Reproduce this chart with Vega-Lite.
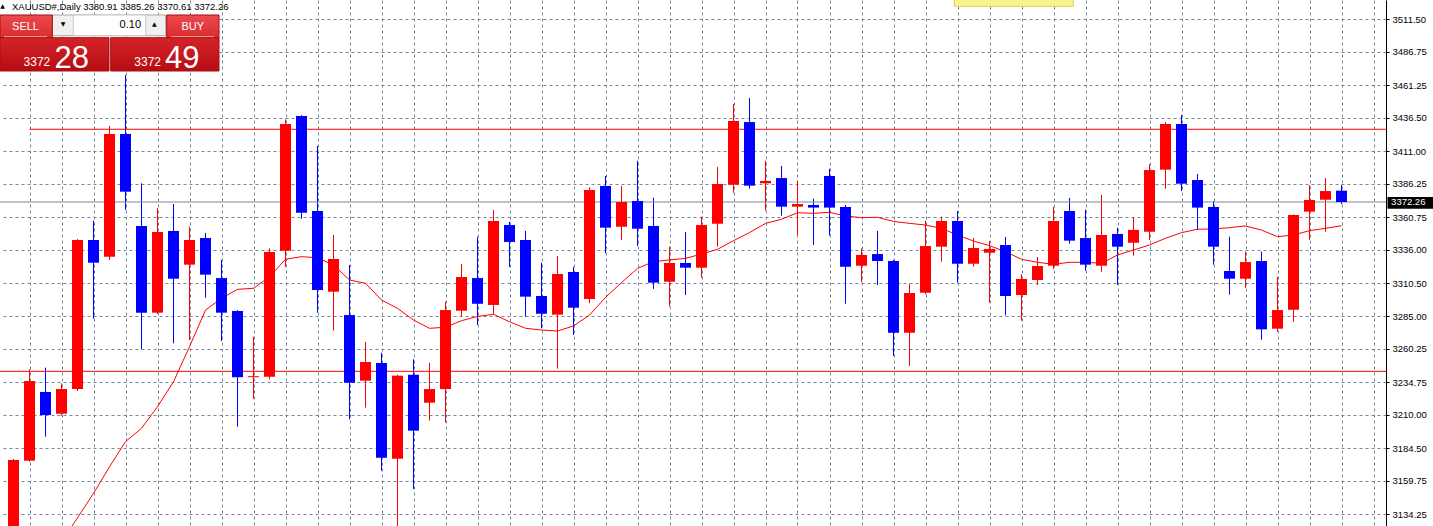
{
  "$schema": "https://vega.github.io/schema/vega-lite/v6.json",
  "width": 1386,
  "height": 526,
  "autosize": "none",
  "padding": {"left": 0, "top": 0, "right": 47, "bottom": 0},
  "background": "#FFFFFF",
  "config": {"view": {"stroke": null}, "scale": {"continuousPadding": 0}},
  "datasets": {
    "candles": [
      {"i":0,"open":3105,"high":3176.4,"low":3100,"close":3175.6},
      {"i":1,"open":3175.1,"high":3244.8,"low":3174.5,"close":3235.8},
      {"i":2,"open":3227.5,"high":3246.0,"low":3193.4,"close":3209.9},
      {"i":3,"open":3210.9,"high":3234.1,"low":3209.5,"close":3229.7},
      {"i":4,"open":3229.7,"high":3344.0,"low":3228.3,"close":3343.3},
      {"i":5,"open":3343.3,"high":3358.0,"low":3283.3,"close":3326.0},
      {"i":6,"open":3330.6,"high":3430.2,"low":3328.1,"close":3424.1},
      {"i":7,"open":3424.1,"high":3469.0,"low":3366.2,"close":3380.1},
      {"i":8,"open":3354.0,"high":3386.5,"low":3260.0,"close":3287.9},
      {"i":9,"open":3287.9,"high":3367.5,"low":3287.0,"close":3349.4},
      {"i":10,"open":3350.2,"high":3370.7,"low":3264.6,"close":3313.8},
      {"i":11,"open":3324.5,"high":3353.4,"low":3267.1,"close":3343.3},
      {"i":12,"open":3344.8,"high":3348.6,"low":3299.3,"close":3316.9},
      {"i":13,"open":3314.3,"high":3328.1,"low":3266.3,"close":3287.9},
      {"i":14,"open":3289.2,"high":3289.9,"low":3201.0,"close":3238.7},
      {"i":15,"open":3238.7,"high":3269.6,"low":3222.3,"close":3239.5},
      {"i":16,"open":3239.1,"high":3337.0,"low":3237.1,"close":3334.2},
      {"i":17,"open":3335.1,"high":3435.3,"low":3322.9,"close":3431.7},
      {"i":18,"open":3437.8,"high":3438.5,"low":3359.5,"close":3364.1},
      {"i":19,"open":3365.4,"high":3414.9,"low":3287.9,"close":3305.2},
      {"i":20,"open":3303.9,"high":3347.1,"low":3274.2,"close":3328.8},
      {"i":21,"open":3286.1,"high":3324.2,"low":3206.6,"close":3234.5},
      {"i":22,"open":3236.1,"high":3265.6,"low":3215.5,"close":3250.3},
      {"i":23,"open":3249.6,"high":3257.4,"low":3167.5,"close":3177.4},
      {"i":24,"open":3176.6,"high":3240.6,"low":3118.0,"close":3239.9},
      {"i":25,"open":3240.6,"high":3252.4,"low":3153.5,"close":3198.0},
      {"i":26,"open":3219.3,"high":3249.6,"low":3205.6,"close":3229.7},
      {"i":27,"open":3229.7,"high":3296.3,"low":3204.1,"close":3289.9},
      {"i":28,"open":3289.4,"high":3325.0,"low":3284.8,"close":3315.1},
      {"i":29,"open":3314.3,"high":3345.8,"low":3278.5,"close":3294.7},
      {"i":30,"open":3293.8,"high":3366.2,"low":3286.7,"close":3357.8},
      {"i":31,"open":3354.7,"high":3357.2,"low":3322.9,"close":3341.8},
      {"i":32,"open":3343.3,"high":3350.2,"low":3284.8,"close":3300.1},
      {"i":33,"open":3300.6,"high":3326.0,"low":3276.0,"close":3287.1},
      {"i":34,"open":3286.4,"high":3331.1,"low":3245.2,"close":3317.4},
      {"i":35,"open":3318.9,"high":3322.9,"low":3270.9,"close":3291.7},
      {"i":36,"open":3298.3,"high":3383.5,"low":3295.1,"close":3381.4},
      {"i":37,"open":3384.5,"high":3392.1,"low":3333.2,"close":3352.7},
      {"i":38,"open":3353.4,"high":3384.5,"low":3343.3,"close":3372.3},
      {"i":39,"open":3373.0,"high":3403.7,"low":3338.7,"close":3351.9},
      {"i":40,"open":3354.0,"high":3375.5,"low":3306.0,"close":3310.8},
      {"i":41,"open":3311.5,"high":3338.2,"low":3292.5,"close":3325.8},
      {"i":42,"open":3325.8,"high":3349.4,"low":3301.4,"close":3322.2},
      {"i":43,"open":3322.2,"high":3361.1,"low":3314.6,"close":3354.7},
      {"i":44,"open":3355.7,"high":3398.9,"low":3338.2,"close":3386.0},
      {"i":45,"open":3385.4,"high":3446.9,"low":3379.3,"close":3434.0},
      {"i":46,"open":3433.2,"high":3451.5,"low":3382.4,"close":3384.7},
      {"i":47,"open":3386.5,"high":3403.7,"low":3365.6,"close":3388.3},
      {"i":48,"open":3390.5,"high":3399.7,"low":3361.8,"close":3368.7},
      {"i":49,"open":3368.7,"high":3388.3,"low":3347.1,"close":3370.7},
      {"i":50,"open":3370.0,"high":3374.8,"low":3339.5,"close":3368.0},
      {"i":51,"open":3392.1,"high":3397.6,"low":3346.6,"close":3368.0},
      {"i":52,"open":3368.5,"high":3370.0,"low":3294.7,"close":3322.9},
      {"i":53,"open":3323.7,"high":3337.0,"low":3311.1,"close":3331.9},
      {"i":54,"open":3332.6,"high":3350.2,"low":3309.0,"close":3327.3},
      {"i":55,"open":3327.3,"high":3328.1,"low":3254.9,"close":3272.6},
      {"i":56,"open":3272.6,"high":3309.8,"low":3247.3,"close":3302.9},
      {"i":57,"open":3303.1,"high":3358.0,"low":3301.9,"close":3338.7},
      {"i":58,"open":3338.2,"high":3361.1,"low":3326.8,"close":3357.8},
      {"i":59,"open":3357.8,"high":3365.4,"low":3310.8,"close":3325.2},
      {"i":60,"open":3325.2,"high":3344.8,"low":3322.9,"close":3337.2},
      {"i":61,"open":3333.6,"high":3342.5,"low":3295.5,"close":3336.5},
      {"i":62,"open":3339.5,"high":3345.6,"low":3285.9,"close":3300.6},
      {"i":63,"open":3301.4,"high":3317.2,"low":3281.8,"close":3313.6},
      {"i":64,"open":3312.8,"high":3330.4,"low":3309.0,"close":3323.5},
      {"i":65,"open":3323.7,"high":3368.5,"low":3321.2,"close":3357.8},
      {"i":66,"open":3365.4,"high":3375.3,"low":3340.5,"close":3342.8},
      {"i":67,"open":3344.8,"high":3366.4,"low":3319.9,"close":3324.5},
      {"i":68,"open":3323.7,"high":3377.6,"low":3319.1,"close":3347.1},
      {"i":69,"open":3347.9,"high":3352.7,"low":3309.2,"close":3338.2},
      {"i":70,"open":3341.2,"high":3360.8,"low":3331.3,"close":3351.0},
      {"i":71,"open":3349.6,"high":3401.2,"low":3343.3,"close":3396.6},
      {"i":72,"open":3396.9,"high":3433.2,"low":3382.4,"close":3431.7},
      {"i":73,"open":3431.7,"high":3438.6,"low":3380.6,"close":3386.2},
      {"i":74,"open":3389.0,"high":3393.6,"low":3351.1,"close":3368.0},
      {"i":75,"open":3368.5,"high":3373.0,"low":3324.5,"close":3338.2},
      {"i":76,"open":3319.7,"high":3345.8,"low":3301.6,"close":3313.8},
      {"i":77,"open":3313.8,"high":3334.4,"low":3306.9,"close":3326.5},
      {"i":78,"open":3327.3,"high":3334.4,"low":3267.3,"close":3275.2},
      {"i":79,"open":3275.7,"high":3315.1,"low":3273.4,"close":3289.9},
      {"i":80,"open":3290.2,"high":3362.8,"low":3281.0,"close":3362.3},
      {"i":81,"open":3364.9,"high":3385.2,"low":3343.5,"close":3373.8},
      {"i":82,"open":3374.0,"high":3390.5,"low":3349.6,"close":3380.6},
      {"i":83,"open":3380.91,"high":3385.26,"low":3370.61,"close":3372.26}
    ],
    "ma": [
      {"i":3,"ma":3113.1},{"i":4,"ma":3131.6},{"i":5,"ma":3150.2},{"i":6,"ma":3170.5},{"i":7,"ma":3189.6},
      {"i":8,"ma":3199.8},{"i":9,"ma":3216.3},{"i":10,"ma":3235.3},{"i":11,"ma":3262.0},{"i":12,"ma":3289.9},
      {"i":13,"ma":3298.9},{"i":14,"ma":3305.7},{"i":15,"ma":3306.5},{"i":16,"ma":3315.3},{"i":17,"ma":3328.6},
      {"i":18,"ma":3330.6},{"i":19,"ma":3329.8},{"i":20,"ma":3324.2},{"i":21,"ma":3312.8},{"i":22,"ma":3310.3},
      {"i":23,"ma":3297.6},{"i":24,"ma":3291.2},{"i":25,"ma":3282.3},{"i":26,"ma":3276.0},{"i":27,"ma":3276.8},
      {"i":28,"ma":3281.8},{"i":29,"ma":3285.0},{"i":30,"ma":3286.7},{"i":31,"ma":3281.0},{"i":32,"ma":3276.0},
      {"i":33,"ma":3274.7},{"i":34,"ma":3273.9},{"i":35,"ma":3277.8},{"i":36,"ma":3286.1},{"i":37,"ma":3299.6},
      {"i":38,"ma":3310.8},{"i":39,"ma":3321.7},{"i":40,"ma":3326.8},{"i":41,"ma":3328.1},{"i":42,"ma":3329.3},
      {"i":43,"ma":3332.6},{"i":44,"ma":3336.2},{"i":45,"ma":3342.8},{"i":46,"ma":3348.9},{"i":47,"ma":3356.0},
      {"i":48,"ma":3359.1},{"i":49,"ma":3364.1},{"i":50,"ma":3363.6},{"i":51,"ma":3364.4},{"i":52,"ma":3361.6},
      {"i":53,"ma":3360.3},{"i":54,"ma":3360.6},{"i":55,"ma":3357.5},{"i":56,"ma":3356.0},{"i":57,"ma":3354.7},
      {"i":58,"ma":3352.2},{"i":59,"ma":3347.1},{"i":60,"ma":3342.5},{"i":61,"ma":3339.0},{"i":62,"ma":3334.4},
      {"i":63,"ma":3328.6},{"i":64,"ma":3326.3},{"i":65,"ma":3324.8},{"i":66,"ma":3326.3},{"i":67,"ma":3326.3},
      {"i":68,"ma":3325.5},{"i":69,"ma":3331.9},{"i":70,"ma":3335.7},{"i":71,"ma":3339.5},{"i":72,"ma":3344.6},
      {"i":73,"ma":3348.9},{"i":74,"ma":3351.5},{"i":75,"ma":3351.7},{"i":76,"ma":3352.7},{"i":77,"ma":3354.0},
      {"i":78,"ma":3350.9},{"i":79,"ma":3345.8},{"i":80,"ma":3347.1},{"i":81,"ma":3350.4},{"i":82,"ma":3352.2},
      {"i":83,"ma":3354.2}
    ]
  },
  "layer": [
    {
      "data": {"name": "candles"},
      "mark": {"type": "rule", "clip": true, "strokeWidth": 1},
      "encoding": {
        "x": {"field": "i", "type": "quantitative", "title": null,
              "scale": {"domain": [-0.84375, 85.78125], "nice": false, "zero": false, "padding": 0},
              "axis": {"orient": "bottom", "values": [1,3,5,7,9,11,13,15,17,19,21,23,25,27,29,31,33,35,37,39,41,43,45,47,49,51,53,55,57,59,61,63,65,67,69,71,73,75,77,79,81,83,85],
                       "tickCount": 200,
                       "grid": true, "gridDash": [3,3], "gridColor": "#778899", "gridOpacity": 1, "gridWidth": 1,
                       "labels": false, "ticks": false, "domain": false, "title": null}},
        "y": {"field": "low", "type": "quantitative", "title": null,
              "scale": {"domain": [3125.33, 3526.21], "nice": false, "zero": false, "padding": 0},
              "axis": {"orient": "right", "values": [3511.5,3486.75,3461.25,3436.5,3411.0,3386.25,3360.75,3336.0,3310.5,3285.0,3260.25,3234.75,3210.0,3184.5,3159.75,3134.25],
                       "tickCount": 100,
                       "format": ".2f", "grid": true, "gridDash": [3,3], "gridColor": "#778899", "gridOpacity": 1, "gridWidth": 1,
                       "domain": true, "domainColor": "#000000", "domainWidth": 1,
                       "ticks": true, "tickColor": "#000000", "tickSize": 3, "tickWidth": 1,
                       "labelFont": "Liberation Sans", "labelFontSize": 9.5, "labelColor": "#000000", "labelPadding": 3,
                       "labelOverlap": false, "labelFlush": false, "title": null}},
        "y2": {"field": "high"},
        "color": {"condition": {"test": "datum.close >= datum.open", "value": "#FF0000"}, "value": "#0000FF"}
      }
    },
    {
      "data": {"values": [{}]},
      "mark": {"type": "rule", "color": "#778899", "strokeWidth": 1},
      "encoding": {
        "x": {"datum": -0.84375, "type": "quantitative"},
        "x2": {"datum": 85.78125},
        "y": {"datum": 3372.26, "type": "quantitative"}
      }
    },
    {
      "data": {"values": [{}]},
      "mark": {"type": "rule", "color": "#FF0000", "strokeWidth": 1},
      "encoding": {
        "x": {"datum": 1, "type": "quantitative"},
        "x2": {"datum": 85.78125},
        "y": {"datum": 3427.7, "type": "quantitative"}
      }
    },
    {
      "data": {"values": [{}]},
      "mark": {"type": "rule", "color": "#FF0000", "strokeWidth": 1},
      "encoding": {
        "x": {"datum": -0.84375, "type": "quantitative"},
        "x2": {"datum": 85.78125},
        "y": {"datum": 3243.2, "type": "quantitative"}
      }
    },
    {
      "data": {"name": "ma"},
      "mark": {"type": "line", "clip": true, "color": "#FF0000", "strokeWidth": 1},
      "encoding": {
        "x": {"field": "i", "type": "quantitative", "title": null},
        "y": {"field": "ma", "type": "quantitative", "title": null}
      }
    },
    {
      "data": {"name": "candles"},
      "mark": {"type": "bar", "width": 11, "clip": true},
      "encoding": {
        "x": {"field": "i", "type": "quantitative", "title": null},
        "y": {"field": "open", "type": "quantitative", "title": null},
        "y2": {"field": "close"},
        "color": {"condition": {"test": "datum.close >= datum.open", "value": "#FF0000"}, "value": "#0000FF"}
      }
    },
    {
      "data": {"values": [{}]},
      "mark": {"type": "rect", "fill": "#FAF48E", "stroke": "#D9D164", "strokeWidth": 1},
      "encoding": {
        "x": {"datum": 58.8, "type": "quantitative"},
        "x2": {"datum": 66.24},
        "y": {"datum": 3521.4, "type": "quantitative"},
        "y2": {"datum": 3530}
      }
    },
    {
      "data": {"values": [{}]},
      "mark": {"type": "rect", "fill": "#000000"},
      "encoding": {
        "x": {"datum": 85.875, "type": "quantitative"},
        "x2": {"datum": 89},
        "y": {"datum": 3367.2, "type": "quantitative"},
        "y2": {"datum": 3376.1}
      }
    },
    {
      "data": {"values": [{}]},
      "mark": {"type": "text", "text": "3372.26", "color": "#FFFFFF", "font": "Liberation Sans", "fontSize": 9.5, "align": "left", "baseline": "middle"},
      "encoding": {
        "x": {"datum": 86.1, "type": "quantitative"},
        "y": {"datum": 3371.9, "type": "quantitative"}
      }
    },
    {
      "data": {"values": [{}]},
      "mark": {"type": "text", "text": "▲", "color": "#000000", "font": "DejaVu Sans", "fontSize": 6, "align": "center", "baseline": "middle"},
      "encoding": {
        "x": {"datum": -0.69, "type": "quantitative"},
        "y": {"datum": 3522.0, "type": "quantitative"}
      }
    },
    {
      "data": {"values": [{}]},
      "mark": {"type": "text", "text": "XAUUSD#,Daily  3380.91 3385.26 3370.61 3372.26", "color": "#000000", "font": "Liberation Sans", "fontSize": 9.5, "align": "left", "baseline": "alphabetic"},
      "encoding": {
        "x": {"datum": -0.094, "type": "quantitative"},
        "y": {"datum": 3518.8, "type": "quantitative"}
      }
    },
    {
      "data": {"values": [{}]},
      "mark": {"type": "rect", "fill": "#F0F0F0", "stroke": "#A8A8A8", "strokeWidth": 1},
      "encoding": {
        "x": {"datum": 2.425, "type": "quantitative"},
        "x2": {"datum": 9.5125},
        "y": {"datum": 3499.0, "type": "quantitative"},
        "y2": {"datum": 3514.78}
      }
    },
    {
      "data": {"values": [{}]},
      "mark": {"type": "rect", "fill": "#FFFFFF", "stroke": "#C8C8C8", "strokeWidth": 1},
      "encoding": {
        "x": {"datum": 3.7375, "type": "quantitative"},
        "x2": {"datum": 8.2625},
        "y": {"datum": 3499.0, "type": "quantitative"},
        "y2": {"datum": 3514.78}
      }
    },
    {
      "data": {"values": [{}]},
      "mark": {"type": "rect", "color": {"gradient": "linear", "x1": 0, "y1": 0, "x2": 0, "y2": 1, "stops": [{"offset": 0, "color": "#EC4A4E"}, {"offset": 1, "color": "#DA2C31"}]}, "stroke": "#A50E12", "strokeWidth": 1},
      "encoding": {
        "x": {"datum": -0.84375, "type": "quantitative"},
        "x2": {"datum": 2.425},
        "y": {"datum": 3497.48, "type": "quantitative"},
        "y2": {"datum": 3514.78}
      }
    },
    {
      "data": {"values": [{}]},
      "mark": {"type": "rect", "color": {"gradient": "linear", "x1": 0, "y1": 0, "x2": 0, "y2": 1, "stops": [{"offset": 0, "color": "#EC4A4E"}, {"offset": 1, "color": "#DA2C31"}]}, "stroke": "#A50E12", "strokeWidth": 1},
      "encoding": {
        "x": {"datum": 9.575, "type": "quantitative"},
        "x2": {"datum": 12.844},
        "y": {"datum": 3497.48, "type": "quantitative"},
        "y2": {"datum": 3514.78}
      }
    },
    {
      "data": {"values": [{}]},
      "mark": {"type": "rect", "color": {"gradient": "linear", "x1": 0, "y1": 0, "x2": 0, "y2": 1, "stops": [{"offset": 0, "color": "#D42429"}, {"offset": 1, "color": "#B70C12"}]}, "stroke": "#A50E12", "strokeWidth": 1},
      "encoding": {
        "x": {"datum": -0.84375, "type": "quantitative"},
        "x2": {"datum": 5.969},
        "y": {"datum": 3472.1, "type": "quantitative"},
        "y2": {"datum": 3497.48}
      }
    },
    {
      "data": {"values": [{}]},
      "mark": {"type": "rect", "color": {"gradient": "linear", "x1": 0, "y1": 0, "x2": 0, "y2": 1, "stops": [{"offset": 0, "color": "#D42429"}, {"offset": 1, "color": "#B70C12"}]}, "stroke": "#A50E12", "strokeWidth": 1},
      "encoding": {
        "x": {"datum": 6.075, "type": "quantitative"},
        "x2": {"datum": 12.844},
        "y": {"datum": 3472.1, "type": "quantitative"},
        "y2": {"datum": 3497.48}
      }
    },
    {
      "data": {"values": [{}]},
      "mark": {"type": "rule", "color": "#F2A0A0", "strokeWidth": 1},
      "encoding": {
        "x": {"datum": -0.59, "type": "quantitative"},
        "x2": {"datum": 2.09},
        "y": {"datum": 3498.3, "type": "quantitative"}
      }
    },
    {
      "data": {"values": [{}]},
      "mark": {"type": "rule", "color": "#F2A0A0", "strokeWidth": 1},
      "encoding": {
        "x": {"datum": 9.84, "type": "quantitative"},
        "x2": {"datum": 12.53},
        "y": {"datum": 3498.3, "type": "quantitative"}
      }
    },
    {
      "data": {"values": [{}]},
      "mark": {"type": "text", "text": "SELL", "color": "#FFFFFF", "font": "Liberation Sans", "fontSize": 11, "align": "center", "baseline": "middle"},
      "encoding": {
        "x": {"datum": 0.75, "type": "quantitative"},
        "y": {"datum": 3505.86, "type": "quantitative"}
      }
    },
    {
      "data": {"values": [{}]},
      "mark": {"type": "text", "text": "BUY", "color": "#FFFFFF", "font": "Liberation Sans", "fontSize": 11, "align": "center", "baseline": "middle"},
      "encoding": {
        "x": {"datum": 11.206, "type": "quantitative"},
        "y": {"datum": 3505.86, "type": "quantitative"}
      }
    },
    {
      "data": {"values": [{}]},
      "mark": {"type": "text", "text": "0.10", "color": "#000000", "font": "Liberation Sans", "fontSize": 11, "align": "right", "baseline": "middle"},
      "encoding": {
        "x": {"datum": 7.97, "type": "quantitative"},
        "y": {"datum": 3506.9, "type": "quantitative"}
      }
    },
    {
      "data": {"values": [{}]},
      "mark": {"type": "text", "text": "▼", "color": "#000000", "font": "DejaVu Sans", "fontSize": 6, "align": "center", "baseline": "middle"},
      "encoding": {
        "x": {"datum": 3.094, "type": "quantitative"},
        "y": {"datum": 3507.9, "type": "quantitative"}
      }
    },
    {
      "data": {"values": [{}]},
      "mark": {"type": "text", "text": "▲", "color": "#000000", "font": "DejaVu Sans", "fontSize": 6, "align": "center", "baseline": "middle"},
      "encoding": {
        "x": {"datum": 8.8, "type": "quantitative"},
        "y": {"datum": 3507.9, "type": "quantitative"}
      }
    },
    {
      "data": {"values": [{}]},
      "mark": {"type": "text", "text": "3372", "color": "#FFFFFF", "font": "Liberation Sans", "fontSize": 12, "align": "right", "baseline": "alphabetic"},
      "encoding": {
        "x": {"datum": 2.3, "type": "quantitative"},
        "y": {"datum": 3476.14, "type": "quantitative"}
      }
    },
    {
      "data": {"values": [{}]},
      "mark": {"type": "text", "text": "3372", "color": "#FFFFFF", "font": "Liberation Sans", "fontSize": 12, "align": "right", "baseline": "alphabetic"},
      "encoding": {
        "x": {"datum": 9.219, "type": "quantitative"},
        "y": {"datum": 3476.14, "type": "quantitative"}
      }
    },
    {
      "data": {"values": [{}]},
      "mark": {"type": "text", "text": "28", "color": "#FFFFFF", "font": "Liberation Sans", "fontSize": 31, "align": "left", "baseline": "alphabetic"},
      "encoding": {
        "x": {"datum": 2.5625, "type": "quantitative"},
        "y": {"datum": 3474.61, "type": "quantitative"}
      }
    },
    {
      "data": {"values": [{}]},
      "mark": {"type": "text", "text": "49", "color": "#FFFFFF", "font": "Liberation Sans", "fontSize": 31, "align": "left", "baseline": "alphabetic"},
      "encoding": {
        "x": {"datum": 9.469, "type": "quantitative"},
        "y": {"datum": 3474.61, "type": "quantitative"}
      }
    }
  ]
}
